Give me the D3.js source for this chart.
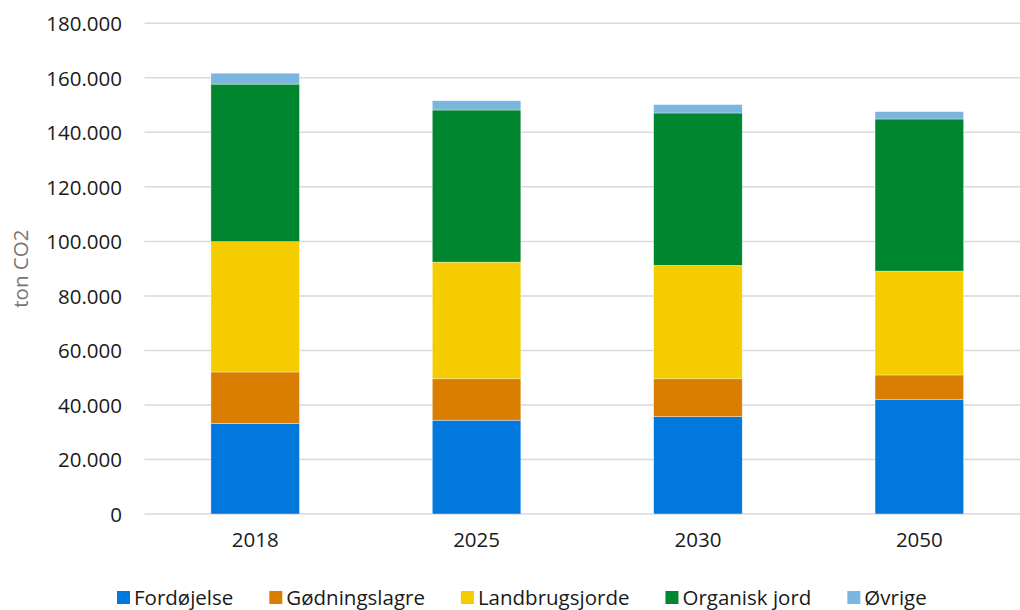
<!DOCTYPE html>
<html>
<head>
<meta charset="utf-8">
<script src="https://cdn.jsdelivr.net/npm/d3@7"></script>
<style>
  html, body { margin: 0; padding: 0; background: #fff; }
  svg { display: block; font-family: "Open Sans", "Noto Sans", sans-serif; }
</style>
</head>
<body>
<svg id="chart" width="1020" height="610"></svg>
<script>
// Emissions by source (ton CO2), stacked per year
const years = ["2018", "2025", "2030", "2050"];
const series = ["Fordøjelse", "Gødningslagre", "Landbrugsjorde", "Organisk jord", "Øvrige"];
const fordoejelse    = [33200, 34400, 35700, 42100];
const goedningslagre = [18900, 15200, 13900, 8900];
const landbrugsjorde = [47800, 42800, 41600, 38100];
const organiskJord   = [57800, 55800, 55900, 55800];
const oevrige        = [4000, 3400, 3100, 2700];
const yTicks = [0, 20000, 40000, 60000, 80000, 100000, 120000, 140000, 160000, 180000];
const colors = ["#0078DE", "#D97E00", "#F5CC00", "#00862E", "#7AB6DE"];

const values = [fordoejelse, goedningslagre, landbrugsjorde, organiskJord, oevrige];
const rows = years.map((y, i) => {
  const r = { year: y };
  series.forEach((s, k) => r[s] = values[k][i]);
  return r;
});

const FS = 20.5;
const svg = d3.select("#chart");
const plot = { left: 144.5, right: 1030, top: 23.3, bottom: 514 };

const x = d3.scaleBand().domain(years).range([plot.left, plot.right]).padding(0);
const y = d3.scaleLinear().domain([0, 180000]).range([plot.bottom, plot.top]);
const barW = x.bandwidth() * 0.4;

// Gridlines
svg.append("g")
  .selectAll("line")
  .data(yTicks)
  .join("line")
  .attr("x1", plot.left).attr("x2", plot.right)
  .attr("y1", d => y(d)).attr("y2", d => y(d))
  .attr("stroke", "#d9d9d9").attr("stroke-width", 1.5);

// Y axis labels
const fmt = d => d3.format(",")(d).replace(/,/g, ".");
const yAxis = d3.axisLeft(y).tickValues(yTicks).tickFormat(fmt).tickSize(0).tickPadding(0);
svg.append("g")
  .attr("transform", `translate(122,0)`)
  .call(yAxis)
  .call(g => g.select(".domain").remove())
  .call(g => g.selectAll("text")
    .attr("font-family", "'Open Sans', sans-serif")
    .attr("font-size", FS).attr("fill", "#1a1a1a").attr("dy", "0.35em"));

// Axis title
svg.append("text")
  .attr("transform", `translate(21,${(plot.top + plot.bottom) / 2}) rotate(-90)`)
  .attr("text-anchor", "middle").attr("dy", "0.35em")
  .attr("font-size", FS).attr("fill", "#767676")
  .text("ton CO2");

// Stacked bars
const stack = d3.stack().keys(series)(rows);
svg.append("g")
  .selectAll("g")
  .data(stack)
  .join("g")
  .attr("fill", (d, i) => colors[i])
  .selectAll("rect")
  .data(d => d)
  .join("rect")
  .attr("x", d => x(d.data.year) + (x.bandwidth() - barW) / 2)
  .attr("width", barW)
  .attr("y", d => y(d[1]))
  .attr("height", d => y(d[0]) - y(d[1]))
  .attr("stroke", "#ffffff").attr("stroke-width", 0.6).attr("stroke-opacity", 0.6);

// X axis labels
const xAxis = d3.axisBottom(x).tickSize(0).tickPadding(0);
svg.append("g")
  .attr("transform", `translate(0,${plot.bottom + 18})`)
  .call(xAxis)
  .call(g => g.select(".domain").remove())
  .call(g => g.selectAll("text")
    .attr("font-family", "'Open Sans', sans-serif")
    .attr("font-size", FS).attr("fill", "#1a1a1a").attr("dy", "0.71em"));

// Legend
const legend = svg.append("g").attr("transform", "translate(117,598)");
let lx = 0;
series.forEach((s, i) => {
  const item = legend.append("g").attr("transform", `translate(${lx},0)`);
  item.append("rect").attr("x", 0).attr("y", -7).attr("width", 13).attr("height", 13).attr("fill", colors[i]);
  const t = item.append("text").attr("x", 17).attr("y", 0).attr("dy", "0.35em")
    .attr("font-size", FS).attr("fill", "#1a1a1a").text(s);
  lx += 17 + t.node().getComputedTextLength() + 36;
});
</script>
</body>
</html>
